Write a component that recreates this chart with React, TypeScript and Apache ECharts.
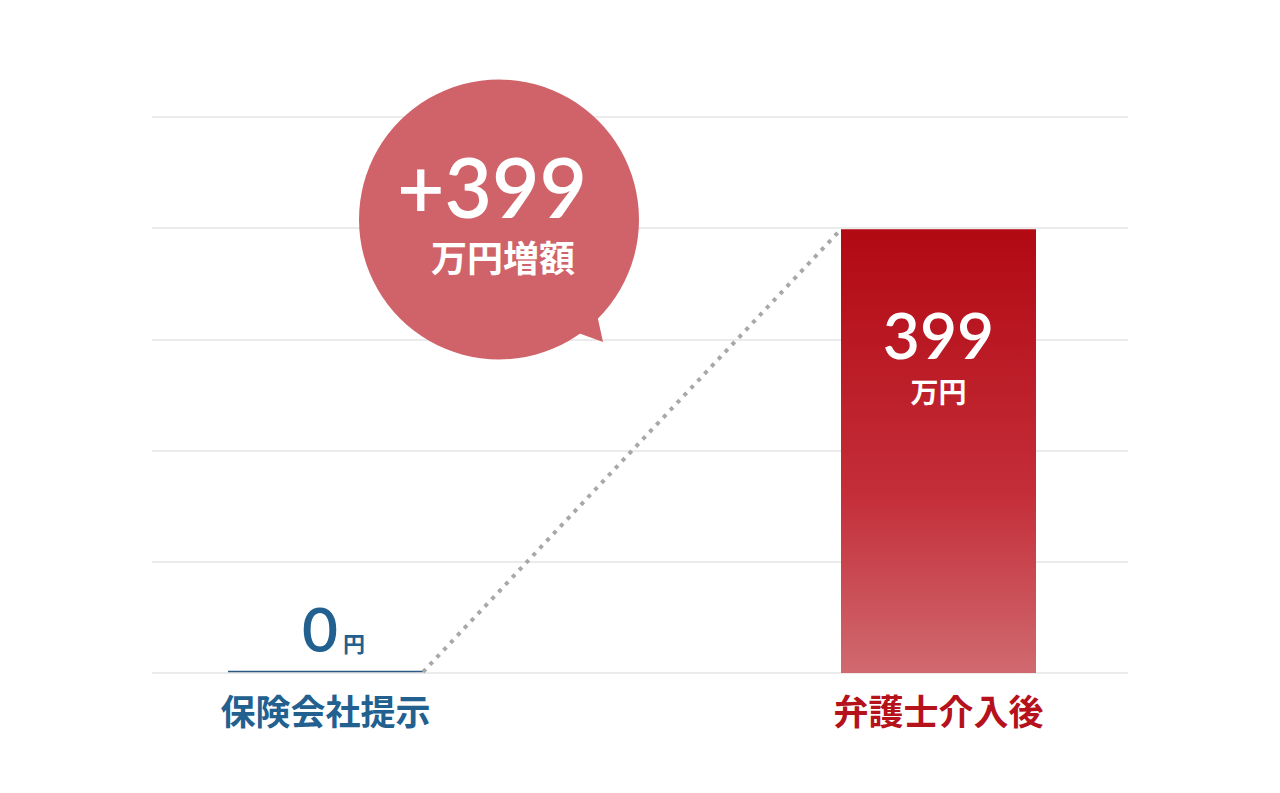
import { useEffect, useRef } from 'react';
import * as echarts from 'echarts';

const CATEGORIES = ['保険会社提示', '弁護士介入後'];
const VALUES = [0, 399];
const UNITS = ['円', '万円'];
const CATEGORY_COLORS = ['#22608f', '#b5121b'];
const INCREASE = '+399';
const INCREASE_UNIT = '万円増額';
const Y_MAX = 500;
const Y_STEP = 100;

const BAR_W = 195;
const JP = '"Noto Sans CJK JP", sans-serif';
const NUM = 'Lato, "Noto Sans", sans-serif';
const NUM_WEIGHT = 600;

const barGradient = new echarts.graphic.LinearGradient(0, 0, 0, 1, [
  { offset: 0, color: '#b20913' },
  { offset: 0.6, color: '#c42e39' },
  { offset: 1, color: '#d06a70' },
]);

function buildOption(): echarts.EChartsOption {
  const barData = VALUES.map((v, i) =>
    v === 0
      ? {
          value: v,
          itemStyle: { color: 'transparent' },
          label: {
            show: true,
            position: 'top' as const,
            distance: 14,
            offset: [8, 0],
            formatter: `{v|${v}}{u|${UNITS[i]}}`,
            rich: {
              v: { fontFamily: NUM, fontSize: 62, fontWeight: NUM_WEIGHT, lineHeight: 62, color: CATEGORY_COLORS[i] },
              u: { fontFamily: JP, fontSize: 22, fontWeight: 'bold' as const, color: CATEGORY_COLORS[i], verticalAlign: 'bottom' as const, padding: [0, 0, 6, 5] },
            },
          },
        }
      : {
          value: v,
          itemStyle: { color: barGradient },
          label: {
            show: true,
            position: 'insideTop' as const,
            distance: 66,
            formatter: `{v|${v}}\n{u|${UNITS[i]}}`,
            rich: {
              v: { fontFamily: NUM, fontSize: 64, fontWeight: NUM_WEIGHT, lineHeight: 78, color: '#fff' },
              u: { fontFamily: JP, fontSize: 28, fontWeight: 'bold' as const, lineHeight: 36, color: '#fff' },
            },
          },
        }
  );

  return {
    animation: false,
    backgroundColor: '#fff',
    grid: [
      { left: 152, right: 152, top: 117, bottom: 120 },
      { left: 19, right: 35, top: 117, bottom: 120 },
    ],
    xAxis: [
      { type: 'value', gridIndex: 0, show: false },
      {
        type: 'category',
        gridIndex: 1,
        data: CATEGORIES,
        axisLine: { show: false },
        axisTick: { show: false },
        axisLabel: {
          margin: 19,
          fontFamily: JP,
          fontSize: 35,
          fontWeight: 'bold',
          lineHeight: 35,
          color: (_v?: string | number, i?: number) => CATEGORY_COLORS[i ?? 0],
        },
      },
    ],
    yAxis: [
      {
        type: 'value',
        gridIndex: 0,
        min: 0,
        max: Y_MAX,
        interval: Y_STEP,
        axisLine: { show: false },
        axisTick: { show: false },
        axisLabel: { show: false },
        splitLine: { lineStyle: { color: '#ebebeb', width: 2 } },
      },
      { type: 'value', gridIndex: 1, min: 0, max: Y_MAX, interval: Y_STEP, show: false, splitLine: { show: false } },
    ],
    series: [
      {
        type: 'custom',
        xAxisIndex: 1,
        yAxisIndex: 1,
        z: 1,
        data: VALUES.map((v, i) => [i, v]),
        renderItem: (params: any, api: any) => {
          const i = params.dataIndex;
          const top = api.coord([i, api.value(1)]);
          const half = BAR_W / 2;
          const children: any[] = [];
          if (VALUES[i] === 0) {
            children.push({
              type: 'line',
              shape: { x1: top[0] - half, y1: top[1] - 1.5, x2: top[0] + half, y2: top[1] - 1.5 },
              style: { stroke: '#2d5a85', lineWidth: 1.5 },
            });
          }
          if (i < VALUES.length - 1) {
            const next = api.coord([i + 1, VALUES[i + 1]]);
            children.push({
              type: 'line',
              shape: { x1: top[0] + half, y1: top[1] - 1, x2: next[0] - half, y2: next[1] },
              style: { stroke: '#a8a8a8', lineWidth: 4, lineDash: [4, 6] },
            });
          }
          return { type: 'group', children };
        },
      },
      {
        type: 'bar',
        xAxisIndex: 1,
        yAxisIndex: 1,
        z: 2,
        barWidth: BAR_W,
        data: barData,
      },
    ],
    graphic: [
      { type: 'circle', z: 100, shape: { cx: 499, cy: 219.5, r: 140 }, style: { fill: '#d06369' } },
      { type: 'polygon', z: 100, shape: { points: [[570, 330], [603, 342], [596, 310]] }, style: { fill: '#d06369' } },
      {
        type: 'text',
        z: 101,
        x: 492,
        y: 186,
        style: { text: INCREASE, fill: '#fff', fontFamily: NUM, fontSize: 82, fontWeight: NUM_WEIGHT, align: 'center', verticalAlign: 'middle' },
      },
      {
        type: 'text',
        z: 101,
        x: 503,
        y: 256,
        style: { text: INCREASE_UNIT, fill: '#fff', fontFamily: JP, fontSize: 36, fontWeight: 'bold', align: 'center', verticalAlign: 'middle' },
      },
    ],
  };
}

export default function App() {
  const ref = useRef<HTMLDivElement | null>(null);
  useEffect(() => {
    if (!ref.current) return;
    const chart = echarts.init(ref.current, undefined, { renderer: 'svg' });
    chart.setOption(buildOption());
    return () => chart.dispose();
  }, []);
  return <div ref={ref} style={{ position: 'absolute', left: 0, top: 0, width: 1280, height: 793 }} />;
}
